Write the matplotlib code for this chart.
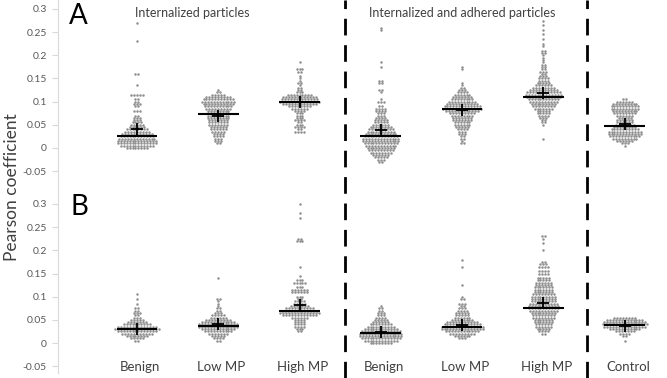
import numpy as np
import matplotlib.pyplot as plt
from matplotlib.lines import Line2D
from matplotlib.transforms import blended_transform_factory

plt.rcParams['font.family'] = ['Lato', 'DejaVu Sans']

group_pos = [1, 2, 3, 4, 5, 6, 7]
group_labels = ['Benign', 'Low MP', 'High MP', 'Benign', 'Low MP', 'High MP', 'Control']
ytick_vals = [-0.05, 0, 0.05, 0.1, 0.15, 0.2, 0.25, 0.3]
ytick_labels = ['-0.05', '0', '0.05', '0.1', '0.15', '0.2', '0.25', '0.3']

# ---- panel A: row values and number of dots in each row ----
a_int_benign_v = [0.27, 0.23, 0.16, 0.135, 0.115, 0.105, 0.1, 0.095, 0.09, 0.08, 0.07, 0.065, 0.06,
                  0.055, 0.05, 0.045, 0.04, 0.035, 0.03, 0.025, 0.02, 0.015, 0.01, 0.005, 0.0]
a_int_benign_n = [1, 1, 2, 1, 5, 2, 2, 3, 2, 3, 2, 3, 3, 4, 5, 6, 8, 9, 11, 12, 13, 14, 14, 12, 8]

a_int_low_v = [0.125, 0.12, 0.115, 0.11, 0.105, 0.1, 0.095, 0.09, 0.085, 0.08, 0.075, 0.07, 0.065,
               0.06, 0.055, 0.05, 0.045, 0.04, 0.035, 0.03, 0.025, 0.02, 0.015, 0.01]
a_int_low_n = [1, 2, 5, 9, 11, 12, 11, 10, 9, 8, 8, 8, 8, 7, 7, 7, 6, 6, 5, 4, 4, 3, 3, 2]

a_int_high_v = [0.185, 0.17, 0.165, 0.155, 0.15, 0.145, 0.14, 0.135, 0.13, 0.125, 0.12, 0.115, 0.11,
                0.105, 0.1, 0.095, 0.09, 0.085, 0.08, 0.075, 0.07, 0.065, 0.06, 0.055, 0.05, 0.045,
                0.04, 0.035]
a_int_high_n = [1, 3, 2, 1, 1, 1, 2, 1, 2, 2, 3, 9, 12, 13, 14, 12, 8, 6, 4, 3, 3, 3, 4, 2, 3, 4, 2, 4]

a_adh_benign_v = [0.26, 0.255, 0.185, 0.175, 0.145, 0.14, 0.125, 0.12, 0.105, 0.1, 0.09, 0.085, 0.08,
                  0.075, 0.07, 0.065, 0.06, 0.055, 0.05, 0.045, 0.04, 0.035, 0.03, 0.025, 0.02, 0.015,
                  0.01, 0.005, 0.0, -0.005, -0.01, -0.015, -0.02, -0.025, -0.03]
a_adh_benign_n = [1, 1, 1, 1, 2, 2, 2, 1, 1, 3, 2, 4, 4, 3, 3, 4, 5, 5, 6, 8, 9, 10, 11, 12, 13, 13,
                  12, 11, 10, 9, 8, 6, 5, 3, 2]

a_adh_low_v = [0.175, 0.17, 0.14, 0.135, 0.13, 0.125, 0.12, 0.115, 0.11, 0.105, 0.1, 0.095, 0.09,
               0.085, 0.08, 0.075, 0.07, 0.065, 0.06, 0.055, 0.05, 0.045, 0.04, 0.035, 0.03, 0.025,
               0.02, 0.015, 0.01]
a_adh_low_n = [1, 1, 1, 1, 2, 3, 4, 6, 7, 8, 10, 11, 13, 14, 12, 9, 8, 7, 7, 6, 6, 5, 4, 3, 3, 2, 2, 1, 2]

a_adh_high_v = [0.275, 0.265, 0.255, 0.245, 0.235, 0.225, 0.22, 0.21, 0.205, 0.2, 0.195, 0.19, 0.185,
                0.18, 0.175, 0.17, 0.165, 0.16, 0.155, 0.15, 0.145, 0.14, 0.135, 0.13, 0.125, 0.12,
                0.115, 0.11, 0.105, 0.1, 0.095, 0.09, 0.085, 0.08, 0.075, 0.07, 0.065, 0.06, 0.055,
                0.05, 0.02]
a_adh_high_n = [1, 1, 1, 1, 1, 1, 1, 2, 2, 1, 1, 1, 1, 2, 2, 2, 3, 2, 3, 4, 4, 5, 6, 8, 10, 12, 13,
                12, 11, 10, 9, 8, 7, 5, 5, 4, 3, 2, 2, 1, 1]

a_control_v = [0.105, 0.1, 0.095, 0.09, 0.085, 0.08, 0.075, 0.07, 0.065, 0.06, 0.055, 0.05, 0.045,
               0.04, 0.035, 0.03, 0.025, 0.02, 0.015, 0.01, 0.005]
a_control_n = [2, 6, 9, 10, 10, 9, 8, 6, 5, 6, 6, 7, 8, 10, 12, 12, 11, 9, 6, 3, 1]

a_medians = [0.025, 0.074, 0.100, 0.026, 0.085, 0.111, 0.047]
a_means = [0.040, 0.070, 0.099, 0.039, 0.082, 0.119, 0.051]

# ---- panel B ----
b_int_benign_v = [0.105, 0.095, 0.085, 0.075, 0.07, 0.065, 0.06, 0.055, 0.05, 0.045, 0.04, 0.035,
                  0.03, 0.025, 0.02, 0.015, 0.01, 0.005]
b_int_benign_n = [1, 1, 1, 2, 2, 3, 2, 3, 5, 7, 10, 14, 16, 14, 11, 8, 5, 2]

b_int_low_v = [0.14, 0.095, 0.09, 0.085, 0.08, 0.075, 0.07, 0.065, 0.06, 0.055, 0.05, 0.045, 0.04,
               0.035, 0.03, 0.025, 0.02, 0.015, 0.01, 0.005]
b_int_low_n = [1, 2, 1, 1, 1, 2, 2, 3, 5, 6, 9, 12, 14, 14, 12, 10, 7, 5, 4, 2]

b_int_high_v = [0.3, 0.28, 0.27, 0.225, 0.22, 0.165, 0.145, 0.135, 0.13, 0.12, 0.115, 0.11, 0.1,
                0.095, 0.09, 0.085, 0.08, 0.075, 0.07, 0.065, 0.06, 0.055, 0.05, 0.045, 0.04, 0.035,
                0.03, 0.025]
b_int_high_n = [1, 1, 1, 2, 3, 1, 1, 3, 5, 3, 6, 6, 3, 2, 4, 5, 7, 10, 13, 14, 12, 6, 4, 4, 4, 4, 3, 2]

b_adh_benign_v = [0.08, 0.075, 0.07, 0.065, 0.06, 0.055, 0.05, 0.045, 0.04, 0.035, 0.03, 0.025, 0.02,
                  0.015, 0.01, 0.005, 0.0]
b_adh_benign_n = [1, 2, 2, 3, 3, 4, 5, 6, 8, 10, 12, 14, 15, 15, 14, 12, 8]

b_adh_low_v = [0.18, 0.165, 0.125, 0.1, 0.095, 0.085, 0.08, 0.075, 0.07, 0.065, 0.06, 0.055, 0.05,
               0.045, 0.04, 0.035, 0.03, 0.025, 0.02, 0.015, 0.01]
b_adh_low_n = [1, 1, 1, 1, 2, 3, 2, 3, 4, 5, 5, 6, 8, 11, 13, 15, 15, 12, 9, 6, 3]

b_adh_high_v = [0.23, 0.225, 0.215, 0.2, 0.175, 0.17, 0.165, 0.155, 0.15, 0.14, 0.135, 0.13, 0.125,
                0.12, 0.115, 0.11, 0.105, 0.1, 0.095, 0.09, 0.085, 0.08, 0.075, 0.07, 0.065, 0.06,
                0.055, 0.05, 0.045, 0.04, 0.035, 0.03, 0.025, 0.02]
b_adh_high_n = [2, 1, 1, 1, 2, 3, 4, 4, 4, 5, 5, 6, 6, 7, 7, 7, 8, 9, 9, 9, 10, 11, 11, 10, 9, 8, 8,
                7, 7, 6, 6, 5, 4, 2]

b_control_v = [0.055, 0.05, 0.045, 0.04, 0.035, 0.03, 0.025, 0.02, 0.015, 0.005]
b_control_n = [8, 13, 15, 16, 15, 11, 7, 4, 2, 1]

b_medians = [0.030, 0.037, 0.069, 0.021, 0.034, 0.0755, 0.038]
b_means = [0.030, 0.040, 0.082, 0.023, 0.039, 0.087, 0.037]

a_rows = [(a_int_benign_v, a_int_benign_n), (a_int_low_v, a_int_low_n), (a_int_high_v, a_int_high_n),
          (a_adh_benign_v, a_adh_benign_n), (a_adh_low_v, a_adh_low_n), (a_adh_high_v, a_adh_high_n),
          (a_control_v, a_control_n)]
b_rows = [(b_int_benign_v, b_int_benign_n), (b_int_low_v, b_int_low_n), (b_int_high_v, b_int_high_n),
          (b_adh_benign_v, b_adh_benign_n), (b_adh_low_v, b_adh_low_n), (b_adh_high_v, b_adh_high_n),
          (b_control_v, b_control_n)]

DOT = '#8e8e8e'
AXC = '#d9d9d9'
TXT = '#404040'


def swarm(ax, x0, vals, counts, dx=0.036):
    # spread the dots of each row sideways around the group centre
    xs, ys = [], []
    for v, n in zip(vals, counts):
        off = (np.arange(n) - (n - 1) / 2) * dx
        xs.extend(x0 + off)
        ys.extend([v] * n)
    ax.scatter(xs, ys, s=3.2, color=DOT, linewidths=0, zorder=2)


def draw_panel(ax, rows, medians, means, ylim):
    for x0, (vals, counts), med, mu in zip(group_pos, rows, medians, means):
        swarm(ax, x0, vals, counts)
        ax.hlines(med, x0 - 0.25, x0 + 0.25, color='black', lw=1.5, zorder=3)
        ax.plot(x0, mu, marker='+', ms=9, mew=1.3, color='black', zorder=4)
    ax.set_xlim(0.03, 7.52)
    ax.set_ylim(*ylim)
    ax.set_yticks(ytick_vals, ytick_labels)
    ax.tick_params(axis='y', colors=AXC, labelcolor='#595959', labelsize=7.5, length=4, width=0.8, pad=4)
    ax.set_xticks([])
    for s in ['top', 'right', 'bottom']:
        ax.spines[s].set_visible(False)
    ax.spines['left'].set_color(AXC)
    ax.spines['left'].set_linewidth(0.8)
    ax.patch.set_alpha(0)


fig = plt.figure(figsize=(6.67, 3.78), dpi=100)
ax_a = fig.add_axes([0.087, 0.5106, 0.913, 0.4894])
ax_b = fig.add_axes([0.087, 0.0132, 0.913, 0.4974])

draw_panel(ax_a, a_rows, a_medians, a_means, (-0.0799, 0.3194))
draw_panel(ax_b, b_rows, b_medians, b_means, (-0.0647, 0.341))

ax_a.text(0.16, 0.285, 'A', fontsize=20, va='center', ha='left', color='black')
ax_b.text(0.18, 0.293, 'B', fontsize=20, va='center', ha='left', color='black')
ax_a.text(0.975, 0.291, 'Internalized particles', fontsize=9, va='center', ha='left', color=TXT)
ax_a.text(3.853, 0.291, 'Internalized and adhered particles', fontsize=9, va='center', ha='left', color=TXT)

for x0, lab in zip(group_pos, group_labels):
    ax_b.text(x0 + 0.04, -0.052, lab, fontsize=9.5, ha='center', va='center', color=TXT)

fig.text(0.018, 0.505, 'Pearson coefficient', rotation=90, fontsize=12.5, ha='center', va='center', color=TXT)

# dashed separators run through both panels
trans = blended_transform_factory(ax_a.transData, fig.transFigure)
for xs in [3.555, 6.53]:
    fig.add_artist(Line2D([xs, xs], [0, 1], transform=trans, color='black', lw=2,
                          dashes=(6, 3.5)))

fig.savefig('out.png', dpi=100)
